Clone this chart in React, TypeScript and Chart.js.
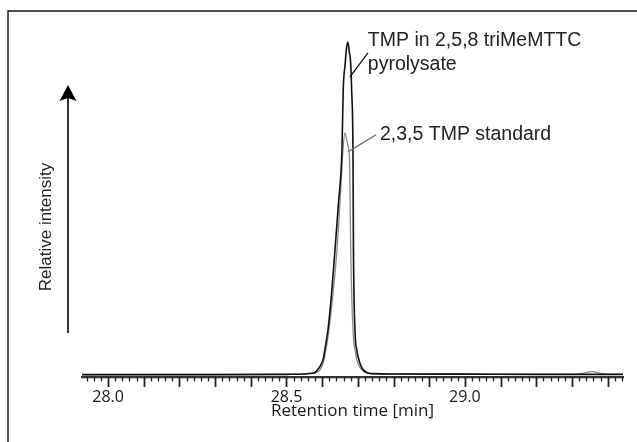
import React, { useEffect, useRef } from "react";
import { Chart, registerables } from "chart.js";

Chart.register(...registerables);

// Retention time [min] and relative intensity (peak of pyrolysate = 100)
const blackTime = [
  27.927, 28.3, 28.5, 28.55, 28.57, 28.58, 28.591, 28.597, 28.6022, 28.609, 28.6162,
  28.626, 28.6359, 28.646, 28.6555, 28.659, 28.6647, 28.668, 28.672, 28.676, 28.6798,
  28.6826, 28.6863, 28.6877, 28.6919, 28.697, 28.7031, 28.7115, 28.728, 28.745, 28.8,
  29.0, 29.2, 29.443,
];
const blackIntensity = [
  0.1, 0.1, 0.2, 0.3, 0.5, 0.8, 2.1, 3.2, 4.5, 8.5, 13.5,
  24, 37.5, 52, 67.6, 85.6, 93.7, 98, 100, 97, 93.7,
  85.6, 67.6, 37.5, 13.5, 7.5, 4.5, 2.1, 0.6, 0.4, 0.3,
  0.25, 0.2, 0.2,
];
const grayTime = [
  27.927, 28.5, 28.57, 28.585, 28.594, 28.605, 28.612, 28.619, 28.63, 28.6415, 28.65,
  28.6583, 28.6639, 28.668, 28.672, 28.677, 28.6785, 28.68, 28.6863, 28.692, 28.6975,
  28.7045, 28.7115, 28.722, 28.74, 28.8, 29.3, 29.33, 29.356, 29.38, 29.41, 29.443,
];
const grayIntensity = [
  0.1, 0.2, 0.4, 0.8, 1.5, 4.5, 8.5, 13.5, 24, 37.5, 52,
  67.6, 72.7, 71, 69, 64, 50, 37.5, 13.5, 7.5, 4.5,
  2.5, 1.5, 0.7, 0.4, 0.3, 0.2, 0.5, 1.0, 0.5, 0.2, 0.2,
];

const xMin = 27.927;
const xMax = 29.443;
const yMin = -0.6;
const yMax = 103;
const minorTicksPerMin = 50; // one tick every 0.02 min
const tickLabelValues = [28.0, 28.5, 29.0];
const tickLabels = ["28.0", "28.5", "29.0"];

const blackLabel = ["TMP in 2,5,8 triMeMTTC", "pyrolysate"];
const blackLabelAt = { x: 28.728, y: 98.8 };
const blackLeader = { x1: 28.6779, y1: 89.5, x2: 28.7283, y2: 96.7 };
const grayLabel = ["2,3,5 TMP standard"];
const grayLabelAt = { x: 28.7619, y: 70.6 };
const grayLeader = { x1: 28.6723, y1: 67, x2: 28.7507, y2: 72.1 };

const decorPlugin = {
  id: "decor",
  beforeDraw(chart: any) {
    const ctx = chart.ctx;
    ctx.save();
    ctx.fillStyle = "#ffffff";
    ctx.fillRect(0, 0, chart.width, chart.height);
    ctx.strokeStyle = "#111111";
    ctx.lineWidth = 1.4;
    ctx.beginPath();
    ctx.moveTo(8, chart.height + 5);
    ctx.lineTo(8, 11);
    ctx.lineTo(chart.width + 5, 11);
    ctx.stroke();
    ctx.restore();
  },
  afterDraw(chart: any) {
    const ctx = chart.ctx;
    const xs = chart.scales.x;
    const ys = chart.scales.y;
    const area = chart.chartArea;
    ctx.save();
    // tick marks
    ctx.strokeStyle = "#222222";
    for (const t of xs.ticks) {
      const i = Math.round(t.value * minorTicksPerMin);
      const major = i % 5 === 0;
      const px = Math.round(xs.getPixelForValue(t.value)) + 0.5;
      ctx.lineWidth = major ? 1.8 : 1.3;
      ctx.beginPath();
      ctx.moveTo(px, area.bottom);
      ctx.lineTo(px, area.bottom + (major ? 10 : 4.5));
      ctx.stroke();
    }
    // arrow
    const ax = area.left - 14;
    ctx.strokeStyle = "#000";
    ctx.fillStyle = "#000";
    ctx.lineWidth = 1.6;
    ctx.beginPath();
    ctx.moveTo(ax, area.bottom - 44);
    ctx.lineTo(ax, 98);
    ctx.stroke();
    ctx.beginPath();
    ctx.moveTo(ax, 85);
    ctx.lineTo(ax - 8.5, 101);
    ctx.lineTo(ax, 98);
    ctx.lineTo(ax + 8.5, 101);
    ctx.closePath();
    ctx.fill();
    // y label
    ctx.save();
    ctx.translate(46, 227);
    ctx.rotate(-Math.PI / 2);
    ctx.font = "17px 'Liberation Sans', Arial, sans-serif";
    ctx.fillStyle = "#222";
    ctx.textAlign = "center";
    ctx.textBaseline = "middle";
    ctx.fillText("Relative intensity", 0, 0);
    ctx.restore();
    // annotations
    ctx.font = "19.5px 'Liberation Sans', Arial, sans-serif";
    ctx.textAlign = "left";
    ctx.textBaseline = "alphabetic";
    ctx.fillStyle = "#222";
    blackLabel.forEach((s, k) => {
      ctx.fillText(s, xs.getPixelForValue(blackLabelAt.x), ys.getPixelForValue(blackLabelAt.y) + k * 24);
    });
    grayLabel.forEach((s, k) => {
      ctx.fillText(s, xs.getPixelForValue(grayLabelAt.x), ys.getPixelForValue(grayLabelAt.y) + k * 24);
    });
    ctx.lineWidth = 1.3;
    ctx.strokeStyle = "#111";
    ctx.beginPath();
    ctx.moveTo(xs.getPixelForValue(blackLeader.x1), ys.getPixelForValue(blackLeader.y1));
    ctx.lineTo(xs.getPixelForValue(blackLeader.x2), ys.getPixelForValue(blackLeader.y2));
    ctx.stroke();
    ctx.strokeStyle = "#777";
    ctx.beginPath();
    ctx.moveTo(xs.getPixelForValue(grayLeader.x1), ys.getPixelForValue(grayLeader.y1));
    ctx.lineTo(xs.getPixelForValue(grayLeader.x2), ys.getPixelForValue(grayLeader.y2));
    ctx.stroke();
    ctx.restore();
  },
};

export default function App() {
  const ref = useRef<HTMLCanvasElement | null>(null);
  useEffect(() => {
    if (!ref.current) return;
    const tickValues: number[] = [];
    for (let i = Math.ceil(xMin * minorTicksPerMin); i <= Math.floor(xMax * minorTicksPerMin); i++) {
      tickValues.push(i / minorTicksPerMin);
    }
    const chart = new Chart(ref.current, {
      type: "line",
      data: {
        datasets: [
          {
            label: "TMP in 2,5,8 triMeMTTC pyrolysate",
            data: blackTime.map((t, i) => ({ x: t, y: blackIntensity[i] })),
            borderColor: "#111111",
            borderWidth: 1.6,
            pointRadius: 0,
            cubicInterpolationMode: "monotone",
            fill: false,
          },
          {
            label: "2,3,5 TMP standard",
            data: grayTime.map((t, i) => ({ x: t, y: grayIntensity[i] })),
            borderColor: "#8a8a8a",
            borderWidth: 1.3,
            pointRadius: 0,
            cubicInterpolationMode: "monotone",
            fill: false,
          },
        ],
      },
      options: {
        animation: false,
        responsive: false,
        devicePixelRatio: 1,
        layout: { padding: { left: 82, right: 14, top: 32, bottom: 0 } },
        plugins: { legend: { display: false }, tooltip: { enabled: false } },
        scales: {
          x: {
            type: "linear",
            min: xMin,
            max: xMax,
            afterBuildTicks: (scale: any) => {
              scale.ticks = tickValues.map((v) => ({ value: v }));
            },
            afterFit: (scale: any) => {
              scale.height = 65;
            },
            grid: { display: false, drawTicks: false },
            border: { display: true, width: 2.2, color: "#333" },
            ticks: {
              autoSkip: false,
              maxRotation: 0,
              padding: 11,
              color: "#1a1a1a",
              font: { family: "'Open Sans', sans-serif", size: 16 },
              callback: (value: any) => {
                const k = tickLabelValues.findIndex((v) => Math.abs(v - Number(value)) < 1e-6);
                return k >= 0 ? tickLabels[k] : "";
              },
            },
            title: {
              display: true,
              text: "Retention time [min]",
              color: "#1a1a1a",
              font: { family: "'Open Sans', sans-serif", size: 17 },
              padding: { top: 0, bottom: 21 },
            },
          },
          y: { type: "linear", display: false, min: yMin, max: yMax },
        },
      },
      plugins: [decorPlugin],
    });
    return () => chart.destroy();
  }, []);
  return (
    <div style={{ position: "fixed", left: 0, top: 0, width: 637, height: 442, background: "#fff" }}>
      <canvas ref={ref} width={637} height={442} style={{ display: "block", width: 637, height: 442 }} />
    </div>
  );
}
